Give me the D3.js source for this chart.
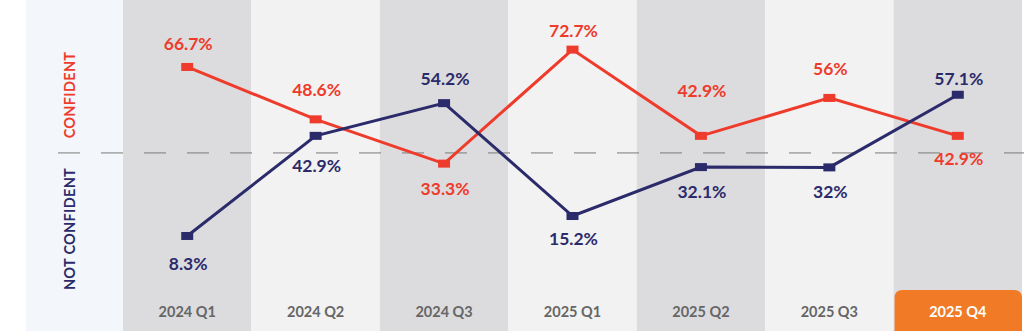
<!DOCTYPE html>
<html><head><meta charset="utf-8">
<script src="https://cdn.jsdelivr.net/npm/d3@7/dist/d3.min.js"></script>
<style>
html,body{margin:0;padding:0;background:#fff;}
svg{display:block;font-family:Lato,"Open Sans",sans-serif;}
</style></head>
<body><svg id="c" width="1024" height="331"></svg>
<script>
const categories = ["2024 Q1","2024 Q2","2024 Q3","2025 Q1","2025 Q2","2025 Q3","2025 Q4"];
const confident = [66.7, 48.6, 33.3, 72.7, 42.9, 56, 42.9];
const notConfident = [8.3, 42.9, 54.2, 15.2, 32.1, 32, 57.1];
const confidentLabels = ["66.7%","48.6%","33.3%","72.7%","42.9%","56%","42.9%"];
const notConfidentLabels = ["8.3%","42.9%","54.2%","15.2%","32.1%","32%","57.1%"];
const dividerValue = 37;
const highlighted = "2025 Q4";

// label placement offsets (baseline relative to point), layout only
const confOffsets = [-17,-23,31,-13,-39,-23,29];
const notOffsets = [34,36,-18,29,31,31,-10];

const RED = "#ee3b2b", NAVY = "#2b2a6b", ORANGE = "#f07a25";
const svg = d3.select("#c");
const W = 1024, H = 331;

const x = d3.scaleBand().domain(categories).range([123, 1022]).padding(0);
const y = d3.scaleLinear().domain([0, 100]).range([260, -29.4]);

// left panel
svg.append("rect").attr("x", 26).attr("y", 0).attr("width", 97).attr("height", H).attr("fill", "#f3f6fa");

// column bands
svg.selectAll("rect.band").data(categories).enter().append("rect")
  .attr("class","band")
  .attr("x", d => x(d)).attr("y", 0)
  .attr("width", x.bandwidth()).attr("height", H)
  .attr("fill", (d,i) => i % 2 === 0 ? "#dcdcde" : "#f2f2f2");

// highlighted category tab
svg.append("path")
  .attr("d", () => {
    const x0 = x(highlighted) + 1, x1 = x(highlighted) + x.bandwidth(), y0 = 290, r = 8;
    return `M${x0},${H} L${x0},${y0+r} Q${x0},${y0} ${x0+r},${y0} L${x1-r},${y0} Q${x1},${y0} ${x1},${y0+r} L${x1},${H} Z`;
  })
  .attr("fill", ORANGE);

// dashed divider
svg.append("line")
  .attr("x1", 58).attr("x2", W)
  .attr("y1", y(dividerValue)).attr("y2", y(dividerValue))
  .attr("stroke", "#7a7a7a").attr("stroke-width", 1)
  .attr("stroke-dasharray", "22,21");

// vertical side labels
svg.append("text")
  .attr("transform", `translate(75,95) rotate(-90)`)
  .attr("text-anchor","middle").attr("fill", RED)
  .attr("font-weight", 700).attr("font-size", 14.5).attr("letter-spacing", 0.3)
  .text("CONFIDENT");
svg.append("text")
  .attr("transform", `translate(75,229) rotate(-90)`)
  .attr("text-anchor","middle").attr("fill", NAVY)
  .attr("font-weight", 700).attr("font-size", 14.5).attr("letter-spacing", 0.3)
  .text("NOT CONFIDENT");

// category labels
svg.selectAll("text.cat").data(categories).enter().append("text")
  .attr("class","cat")
  .attr("x", d => x(d) + x.bandwidth()/2)
  .attr("y", 317)
  .attr("text-anchor","middle")
  .attr("font-weight", 700).attr("font-size", 14.5)
  .attr("fill", d => d === highlighted ? "#ffffff" : "#666666")
  .text(d => d);

const cx = d => x(d) + x.bandwidth()/2;
const line = d3.line().x(d => cx(d.c)).y(d => y(d.v));

function drawSeries(vals, labels, offs, color) {
  const data = categories.map((c,i) => ({c, v: vals[i], l: labels[i], o: offs[i]}));
  svg.append("path").datum(data).attr("d", line)
    .attr("fill","none").attr("stroke", color).attr("stroke-width", 3)
    .attr("stroke-linejoin","miter");
  svg.selectAll(null).data(data).enter().append("rect")
    .attr("x", d => cx(d.c) - 6).attr("y", d => y(d.v) - 4)
    .attr("width", 12).attr("height", 8).attr("fill", color);
  return data;
}
const dConf = drawSeries(confident, confidentLabels, confOffsets, RED);
const dNot = drawSeries(notConfident, notConfidentLabels, notOffsets, NAVY);

function drawLabels(data, color) {
  svg.selectAll(null).data(data).enter().append("text")
    .attr("x", d => cx(d.c) + 1)
    .attr("y", d => y(d.v) + d.o)
    .attr("text-anchor","middle")
    .attr("font-weight", 700).attr("font-size", 17.5)
    .attr("fill", color)
    .text(d => d.l);
}
drawLabels(dConf, RED);
drawLabels(dNot, NAVY);
</script></body></html>
